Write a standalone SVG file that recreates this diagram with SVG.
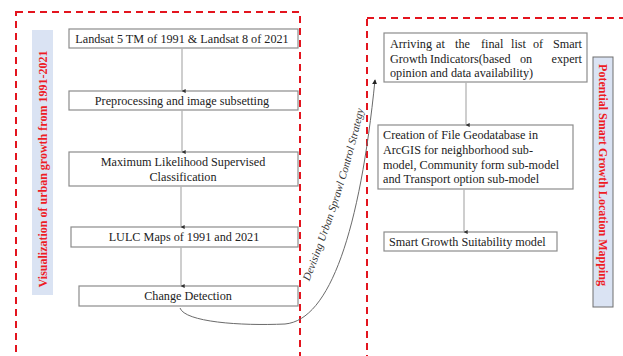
<svg xmlns="http://www.w3.org/2000/svg" width="623" height="356" viewBox="0 0 623 356">
  <style>
    .frame { fill: none; stroke: #e3141e; stroke-width: 2; stroke-dasharray: 7 5; }
    .box { fill: #ffffff; stroke: #8c8c8c; stroke-width: 1.2; }
    .txt { font-family: "Liberation Serif", "Times New Roman", serif; font-size: 12.2px; fill: #222222; }
    .mid { text-anchor: middle; }
    .flow { stroke: #b4b4b4; stroke-width: 1.3; fill: none; marker-end: url(#tip); }
    .title { font-family: "Liberation Serif", "Times New Roman", serif; font-size: 12px; font-weight: bold; fill: #ee1c25; text-anchor: middle; }
    .bar { fill: #dae3f3; }
  </style>
  <defs>
    <marker id="tip" viewBox="0 0 6 6" refX="3" refY="5.5" markerWidth="4" markerHeight="4" orient="auto-start-reverse" markerUnits="userSpaceOnUse">
      <path d="M0,0 L6,3 L0,6 Z" fill="#333333" transform="rotate(90 3 3)"/>
    </marker>
    <marker id="tipdark" viewBox="0 0 6 6" refX="5" refY="3" markerWidth="5" markerHeight="5" orient="auto" markerUnits="userSpaceOnUse">
      <path d="M0,0 L6,3 L0,6 Z" fill="#222222"/>
    </marker>
    <path id="curveLabel" d="M305,292 C 326,240 351,172 366,98"/>
  </defs>

  <!-- section frames -->
  <rect class="frame" x="16" y="12" width="284" height="360"/>
  <rect class="frame" x="367" y="18" width="280" height="360"/>

  <!-- left section title -->
  <g id="title-left">
    <rect class="bar" x="32" y="30" width="21" height="265"/>
    <text class="title" transform="translate(46.5 169) rotate(-90)">Visualization of urban growth from 1991-2021</text>
  </g>

  <!-- right section title -->
  <g id="title-right">
    <rect class="bar" x="593" y="57" width="20" height="250" stroke="#6e6e6e" stroke-width="1"/>
    <text class="title" transform="translate(599 175) rotate(90)">Potential Smart Growth Location Mapping</text>
  </g>

  <!-- left chain -->
  <g id="n-landsat">
    <rect class="box" x="69" y="29" width="229" height="19"/>
    <text class="txt mid" x="182" y="43">Landsat 5 TM of 1991 &amp; Landsat 8 of 2021</text>
  </g>
  <g id="n-preprocessing">
    <rect class="box" x="69" y="91" width="229" height="19"/>
    <text class="txt mid" x="182" y="105">Preprocessing and image subsetting</text>
  </g>
  <g id="n-mlc">
    <rect class="box" x="69" y="152" width="229" height="34"/>
    <text class="txt mid" x="183" y="166">Maximum Likelihood Supervised</text>
    <text class="txt mid" x="183" y="181">Classification</text>
  </g>
  <g id="n-lulc">
    <rect class="box" x="71" y="227" width="227" height="20"/>
    <text class="txt mid" x="184" y="241">LULC Maps of 1991 and 2021</text>
  </g>
  <g id="n-change">
    <rect class="box" x="79" y="286" width="219" height="20"/>
    <text class="txt mid" x="188" y="300">Change Detection</text>
  </g>

  <!-- right chain -->
  <g id="n-indicators">
    <rect class="box" x="384" y="33" width="203" height="49"/>
    <text class="txt" y="48"><tspan x="390">Arriving</tspan><tspan x="436">at</tspan><tspan x="455">the</tspan><tspan x="481">final</tspan><tspan x="511">list</tspan><tspan x="533">of</tspan><tspan x="582" text-anchor="end">Smart</tspan></text>
    <text class="txt" y="63"><tspan x="390">Growth</tspan><tspan x="430">Indicators(based</tspan><tspan x="520">on</tspan><tspan x="582" text-anchor="end">expert</tspan></text>
    <text class="txt" x="390" y="77">opinion and data availability)</text>
  </g>
  <g id="n-geodatabase">
    <rect class="box" x="378" y="125" width="195" height="64"/>
    <text class="txt" x="383" y="139">Creation of File Geodatabase in</text>
    <text class="txt" x="383" y="154">ArcGIS for neighborhood sub-</text>
    <text class="txt" x="383" y="169">model, Community form sub-model</text>
    <text class="txt" x="383" y="183">and Transport option sub-model</text>
  </g>
  <g id="n-suitability">
    <rect class="box" x="384" y="232" width="173" height="19"/>
    <text class="txt" x="389" y="246">Smart Growth Suitability model</text>
  </g>

  <!-- connectors -->
  <g id="connectors">
    <line class="flow" x1="182" y1="48" x2="182" y2="91"/>
    <line class="flow" x1="182" y1="110" x2="182" y2="152"/>
    <line class="flow" x1="181" y1="186" x2="181" y2="227"/>
    <line class="flow" x1="181" y1="247" x2="181" y2="286"/>
    <line class="flow" x1="466" y1="82" x2="466" y2="125"/>
    <line class="flow" x1="464" y1="189" x2="464" y2="232"/>
    <path d="M180,308 C185,322 240,326 285,324 C330,320 360,230 375,80" fill="none" stroke="#6a6a6a" stroke-width="1" marker-end="url(#tipdark)"/>
    <text font-family="'Liberation Serif', 'Times New Roman', serif" font-size="11px" font-style="italic" fill="#333333" text-anchor="middle">
      <textPath href="#curveLabel" startOffset="50%">Devising Urban Sprawl Control Strategy</textPath>
    </text>
  </g>
</svg>
